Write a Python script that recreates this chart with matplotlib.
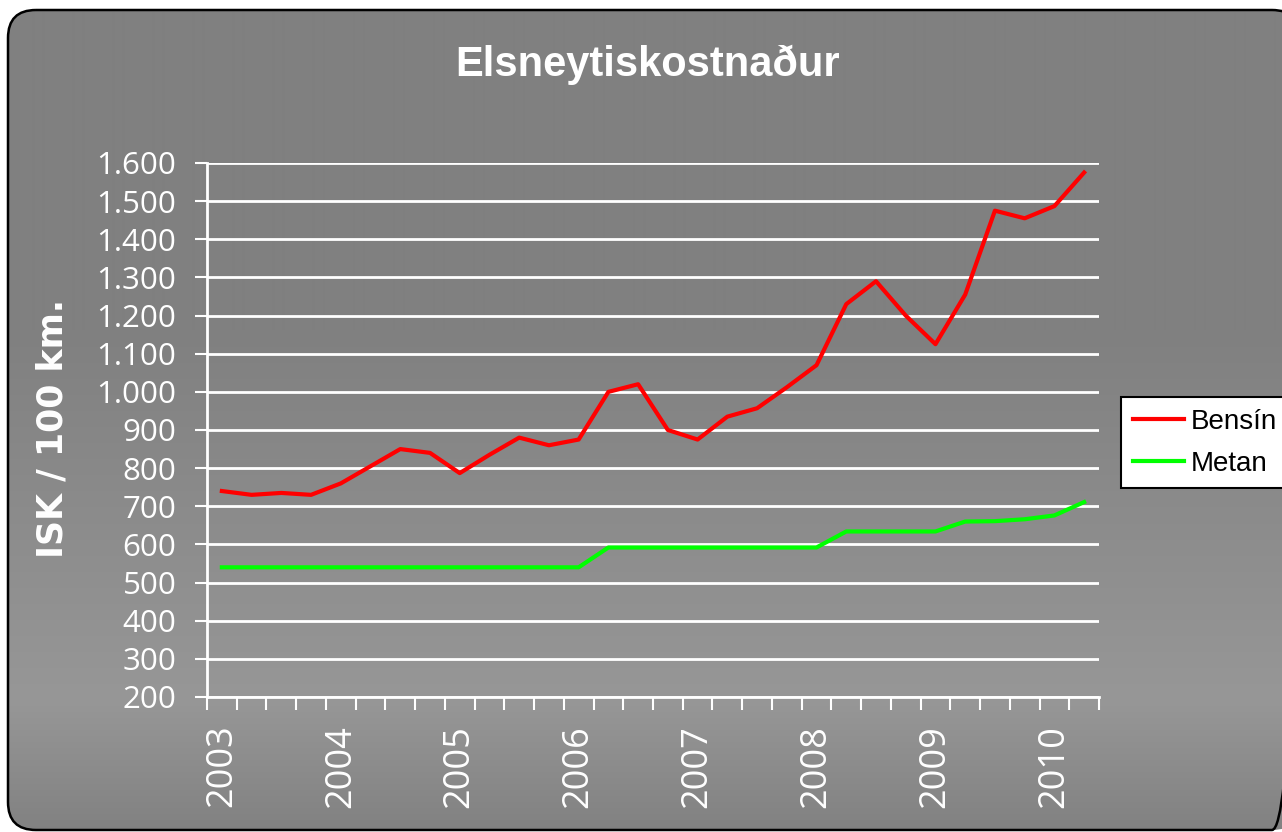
import numpy as np
import matplotlib
matplotlib.use('Agg')
import matplotlib.pyplot as plt
from matplotlib.patches import FancyBboxPatch
from matplotlib.lines import Line2D
from matplotlib.ticker import FuncFormatter, FixedLocator

# ---------------- data ----------------
title = "Elsneytiskostnaður"
ylabel = "ISK / 100 km."
year_labels = ["2003", "2004", "2005", "2006", "2007", "2008", "2009", "2010"]
series_names = ["Bensín", "Metan"]
bensin = [740, 730, 735, 730, 760, 805, 850, 840, 787, 835, 880, 860, 875, 1000, 1020,
          900, 875, 935, 957, 1012, 1070, 1230, 1290, 1200, 1125, 1255, 1475, 1455, 1487, 1575]
metan = [540, 540, 540, 540, 540, 540, 540, 540, 540, 540, 540, 540, 540, 592, 592,
         592, 592, 592, 592, 592, 592, 634, 634, 634, 634, 660, 661, 666, 676, 711]
quarters_per_year = 4
y_ticks = list(range(200, 1700, 100))

# ---------------- figure ----------------
W, H = 1282, 832
fig = plt.figure(figsize=(W / 100, H / 100), dpi=100)
fig.patch.set_facecolor('white')

# background with gradient + rounded border
bg = fig.add_axes([0, 0, 1, 1])
bg.set_xlim(0, W)
bg.set_ylim(H, 0)
bg.axis('off')
ys = np.arange(H)
vals = np.interp(ys, [0, 330, 700, 832], [128, 128, 151, 129]) / 255.0
grad = np.repeat(vals[:, None], 2, axis=1)
im = bg.imshow(np.dstack([grad, grad, grad]), extent=[0, W, H, 0], aspect='auto',
               zorder=0, interpolation='bilinear')
box = FancyBboxPatch((8, 10), 1300 - 8, 820,
                     boxstyle='round,pad=0,rounding_size=28',
                     fc='none', ec='black', lw=1.8, zorder=2)
bg.add_patch(box)
im.set_clip_path(box)

# main axes
x0, x1, ytop, ybot = 207, 1099, 163, 697
ax = fig.add_axes([x0 / W, 1 - ybot / H, (x1 - x0) / W, (ybot - ytop) / H])
ax.patch.set_alpha(0)

x = np.arange(len(bensin))
ax.plot(x, bensin, color='#ff0000', lw=3.0, label=series_names[0], zorder=3)
ax.plot(x, metan, color='#00ff00', lw=3.0, label=series_names[1], zorder=3)

ax.set_xlim(-0.5, len(bensin) - 0.5)
ax.set_ylim(200, 1600)

ax.yaxis.set_major_locator(FixedLocator(y_ticks))
ax.yaxis.set_major_formatter(FuncFormatter(lambda v, p: f"{v:,.0f}".replace(',', '.')))
ax.tick_params(axis='y', colors='white', length=9, width=1.5, pad=13, labelsize=22.5)
for lab in ax.get_yticklabels():
    lab.set_family('Open Sans')

# category ticks
ax.set_xticks(np.arange(-0.5, len(bensin), 1.0))
ax.set_xticklabels([])
ax.tick_params(axis='x', which='major', colors='white', length=9, width=1.5)
ax.set_xticks(np.arange(0, len(bensin), quarters_per_year), minor=True)
ax.set_xticklabels(year_labels, minor=True, rotation=90, family='Open Sans', fontsize=26)
ax.tick_params(axis='x', which='minor', colors='white', length=0, pad=20)

ax.yaxis.grid(True, color='white', lw=2)
ax.set_axisbelow(True)
for s in ['top', 'right']:
    ax.spines[s].set_visible(False)
for s in ['left', 'bottom']:
    ax.spines[s].set_color('white')
    ax.spines[s].set_linewidth(2)

# title and y label
fig.text(648 / W, 1 - 76 / H, title, ha='center', va='baseline', color='white',
         fontsize=30, fontweight='bold', family='Liberation Sans')
fig.text(52 / W, 1 - 428 / H, ylabel, ha='center', va='center', rotation=90,
         color='white', fontsize=25, fontweight='bold', family='DejaVu Sans')

# legend (frame runs off the right edge as in the reference)
handles = [Line2D([], [], color='#ff0000', lw=3.0), Line2D([], [], color='#00ff00', lw=3.0)]
leg = fig.legend(handles, series_names, loc='upper left',
                 bbox_to_anchor=(1121 / W, 1 - 397 / H), borderaxespad=0,
                 prop=dict(family='Liberation Sans', size=20),
                 frameon=True, fancybox=False, framealpha=1, facecolor='white',
                 edgecolor='black', handlelength=1.85, handletextpad=0.25,
                 borderpad=0.42, labelspacing=0.58)
leg.get_frame().set_linewidth(1.5)

fig.savefig('out.png', dpi=100)
